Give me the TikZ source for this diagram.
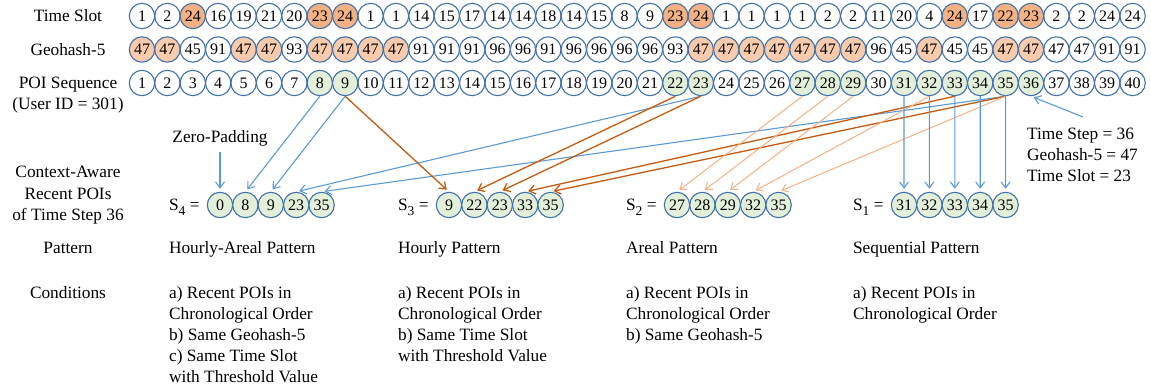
\documentclass[tikz,border=0pt]{standalone}
\usepackage{fontspec}
\setmainfont{Liberation Serif}
\usetikzlibrary{arrows.meta}
\definecolor{cborder}{RGB}{65,113,170}
\definecolor{tsfill}{RGB}{244,177,131}
\definecolor{ghfill}{RGB}{248,203,173}
\definecolor{gfill}{RGB}{226,240,217}
\definecolor{ablue}{RGB}{91,155,213}
\definecolor{adark}{RGB}{197,90,17}
\definecolor{alight}{RGB}{244,177,131}
\newcommand{\ssub}[1]{\raisebox{-0.55ex}{\fontsize{13.5}{13.5}\selectfont #1}}
\begin{document}
\begin{tikzpicture}[x=1pt,y=-1pt,
  cell/.style={circle,draw=cborder,line width=1.1pt,minimum size=25.4pt,inner sep=0pt,font=\fontsize{16}{16}\selectfont},
  ts/.style={cell,fill=tsfill},
  gh/.style={cell,fill=ghfill},
  gr/.style={cell,fill=gfill},
  lab/.style={font=\fontsize{17.3}{21}\selectfont,anchor=base,inner sep=0pt},
  txt/.style={font=\fontsize{17.3}{21}\selectfont,anchor=base west,inner sep=0pt},
  slab/.style={font=\fontsize{17.3}{21}\selectfont,anchor=base east,inner sep=0pt},
  arr/.style={line width=1.1pt,-{Straight Barb[length=6pt,width=9pt]},shorten >=3pt},
  ab/.style={arr,draw=ablue},
  ad/.style={arr,draw=adark,line width=1.3pt},
  al/.style={arr,draw=alight,line width=1pt}]
\useasboundingbox (0,0) rectangle (1151,390);
% row labels
\node[lab] (lts) at (68,22) {Time Slot};
\node[lab] (lgh) at (68,55.5) {Geohash-5};
\node[lab] (lpoi) at (68,89) {POI Sequence};
\node[lab] (luid) at (68,110) {(User ID = 301)};
\node[lab] (lca1) at (68,178) {Context-Aware};
\node[lab] (lca2) at (68,199.5) {Recent POIs};
\node[lab] (lca3) at (68,221) {of Time Step 36};
\node[lab] (lpat) at (68,253) {Pattern};
\node[lab] (lcon) at (68,298) {Conditions};
% time slot row
\foreach \v/\s [count=\i] in {1/cell,2/cell,24/ts,16/cell,19/cell,21/cell,20/cell,23/ts,24/ts,1/cell,1/cell,14/cell,15/cell,17/cell,14/cell,14/cell,18/cell,14/cell,15/cell,8/cell,9/cell,23/ts,24/ts,1/cell,1/cell,1/cell,1/cell,2/cell,2/cell,11/cell,20/cell,4/cell,24/ts,17/cell,22/ts,23/ts,2/cell,2/cell,24/cell,24/cell}
  \node[\s] (t\i) at ({142+(\i-1)*25.4},16) {\v};
% geohash row
\foreach \v/\s [count=\i] in {47/gh,47/gh,45/cell,91/cell,47/gh,47/gh,93/cell,47/gh,47/gh,47/gh,47/gh,91/cell,91/cell,91/cell,96/cell,96/cell,91/cell,96/cell,96/cell,96/cell,96/cell,93/cell,47/gh,47/gh,47/gh,47/gh,47/gh,47/gh,47/gh,96/cell,45/cell,47/gh,45/cell,45/cell,47/gh,47/gh,47/cell,47/cell,91/cell,91/cell}
  \node[\s] (g\i) at ({142+(\i-1)*25.4},49.5) {\v};
% POI row
\foreach \s [count=\i] in {cell,cell,cell,cell,cell,cell,cell,gr,gr,cell,cell,cell,cell,cell,cell,cell,cell,cell,cell,cell,cell,gr,gr,cell,cell,cell,gr,gr,gr,cell,gr,gr,gr,gr,gr,gr,cell,cell,cell,cell}
  \node[\s] (p\i) at ({142+(\i-1)*25.4},83) {\i};
% recent POI sequences
\foreach \v [count=\i] in {0,8,9,23,35}
  \node[gr] (sd\i) at ({220+(\i-1)*25.4},205) {\v};
\foreach \v [count=\i] in {9,22,23,33,35}
  \node[gr] (sc\i) at ({449+(\i-1)*25.4},205) {\v};
\foreach \v [count=\i] in {27,28,29,32,35}
  \node[gr] (sb\i) at ({677+(\i-1)*25.4},205) {\v};
\foreach \v [count=\i] in {31,32,33,34,35}
  \node[gr] (sa\i) at ({904+(\i-1)*25.4},205) {\v};
% S labels
\node[slab] (ld) at ([xshift=-7pt]sd1.west |- 0,211) {S\ssub{4} =};
\node[slab] (lc) at ([xshift=-7pt]sc1.west |- 0,211) {S\ssub{3} =};
\node[slab] (lb) at ([xshift=-7pt]sb1.west |- 0,211) {S\ssub{2} =};
\node[slab] (la) at ([xshift=-7pt]sa1.west |- 0,211) {S\ssub{1} =};
% patterns
\node[txt] (pd) at (ld.west |- 0,253) {Hourly-Areal Pattern};
\node[txt] (pc) at (lc.west |- 0,253) {Hourly Pattern};
\node[txt] (pb) at (lb.west |- 0,253) {Areal Pattern};
\node[txt] (pa) at (la.west |- 0,253) {Sequential Pattern};
% conditions
\node[txt] (cd1) at (ld.west |- 0,298) {a) Recent POIs in};
\node[txt] (cd2) at (ld.west |- 0,319) {Chronological Order};
\node[txt] (cd3) at (ld.west |- 0,340) {b) Same Geohash-5};
\node[txt] (cd4) at (ld.west |- 0,361) {c) Same Time Slot};
\node[txt] (cd5) at (ld.west |- 0,382) {with Threshold Value};
\node[txt] (cc1) at (lc.west |- 0,298) {a) Recent POIs in};
\node[txt] (cc2) at (lc.west |- 0,319) {Chronological Order};
\node[txt] (cc3) at (lc.west |- 0,340) {b) Same Time Slot};
\node[txt] (cc4) at (lc.west |- 0,361) {with Threshold Value};
\node[txt] (cb1) at (lb.west |- 0,298) {a) Recent POIs in};
\node[txt] (cb2) at (lb.west |- 0,319) {Chronological Order};
\node[txt] (cb3) at (lb.west |- 0,340) {b) Same Geohash-5};
\node[txt] (ca1) at (la.west |- 0,298) {a) Recent POIs in};
\node[txt] (ca2) at (la.west |- 0,319) {Chronological Order};
% note
\node[txt] (n1) at (1027,140) {Time Step = 36};
\node[txt] (n2) at (1027,161) {Geohash-5 = 47};
\node[txt] (n3) at (1027,182) {Time Slot = 23};
\coordinate (nstart) at (1083,117);
\draw[ab] (nstart) -- (p36.south);
% zero padding
\node[lab] (zp) at (220,143) {Zero-Padding};
\draw[ab,shorten <=5pt] (zp.south) -- (sd1.north);
% arrows S4
\draw[ab] (p8.south) -- (sd2.north);
\draw[ab] (p9.south) -- (sd3.north);
\draw[ab] (p23.south) -- (sd4.north);
\draw[ab] (p35.south) -- (sd5.north);
% arrows S3
\draw[ad] (p9.south) -- (sc1.north);
\draw[ad] (p22.south) -- (sc2.north);
\draw[ad] (p23.south) -- (sc3.north);
\draw[ad] (p33.south) -- (sc4.north);
\draw[ad] (p35.south) -- (sc5.north);
% arrows S2
\draw[al] (p27.south) -- (sb1.north);
\draw[al] (p28.south) -- (sb2.north);
\draw[al] (p29.south) -- (sb3.north);
\draw[al] (p32.south) -- (sb4.north);
\draw[al] (p35.south) -- (sb5.north);
% arrows S1
\foreach \i [evaluate=\i as \j using int(\i+30)] in {1,...,5}
  \draw[ab] (p\j.south) -- (sa\i.north);
\end{tikzpicture}
\end{document}
